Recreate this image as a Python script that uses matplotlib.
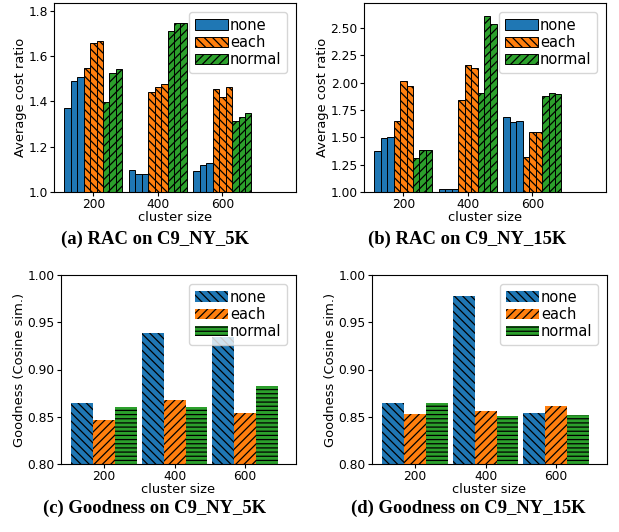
"""2x2 panel: RAC cost ratio and goodness per cluster size."""
import numpy as np
import matplotlib.pyplot as plt

plt.rcParams.update({
    "font.family": "DejaVu Sans",
    "hatch.linewidth": 0.9,
})

W, H = 619, 532
SIZES = ["200", "400", "600"]
METHODS = ["none", "each", "normal"]
COLORS = ["#1f77b4", "#ff7f0e", "#2ca02c"]

# top panels: 3 runs per method per cluster size
rac_5k = {
    "none":   [[1.369, 1.490, 1.506], [1.097, 1.078, 1.078], [1.094, 1.121, 1.128]],
    "each":   [[1.548, 1.657, 1.666], [1.444, 1.462, 1.475], [1.453, 1.421, 1.462]],
    "normal": [[1.399, 1.524, 1.542], [1.713, 1.748, 1.745], [1.314, 1.332, 1.351]],
}
rac_15k = {
    "none":   [[1.373, 1.496, 1.508], [1.031, 1.031, 1.031], [1.683, 1.640, 1.646]],
    "each":   [[1.646, 2.013, 1.967], [1.842, 2.160, 2.133], [1.324, 1.545, 1.545]],
    "normal": [[1.312, 1.389, 1.389], [1.903, 2.613, 2.537], [1.878, 1.903, 1.894]],
}
# bottom panels: one value per method per cluster size
good_5k = {
    "none":   [0.8642, 0.9386, 0.9340],
    "each":   [0.8466, 0.8674, 0.8540],
    "normal": [0.8603, 0.8603, 0.8825],
}
good_15k = {
    "none":   [0.8642, 0.9778, 0.8536],
    "each":   [0.8526, 0.8557, 0.8610],
    "normal": [0.8642, 0.8508, 0.8519],
}

fig = plt.figure(figsize=(W / 100, H / 100), dpi=100)


def px_axes(left, top, right, bottom):
    return fig.add_axes([left / W, 1 - bottom / H, (right - left) / W, (bottom - top) / H])


def style(ax, ylabel):
    ax.set_xticks(np.arange(len(SIZES)))
    ax.set_xticklabels(SIZES)
    ax.tick_params(labelsize=8.8, pad=1.5, length=3)
    ax.set_xlabel("cluster size", fontsize=9.4, labelpad=0)
    ax.set_ylabel(ylabel, fontsize=9.4, labelpad=1)
    ax.legend(loc="upper right", fontsize=10.5, handletextpad=0.1,
              handlelength=2.3, labelspacing=0.15, borderaxespad=0.6,
              borderpad=0.4)


def rac_panel(ax, data, ylim, yticks):
    hatches = ["", "\\\\\\\\", "////"]
    x = np.arange(len(SIZES))
    w = 0.1
    for m, (name, col, hat) in enumerate(zip(METHODS, COLORS, hatches)):
        vals = np.array(data[name])
        for r in range(vals.shape[1]):
            k = m * 3 + r
            ax.bar(x + (k - 4) * w, vals[:, r] - 1.0, w, bottom=1.0, color=col,
                   edgecolor="black", linewidth=0.7, hatch=hat,
                   label=name if r == 0 else None)
    ax.set_xlim(-0.61, 3.14)
    ax.set_ylim(*ylim)
    ax.set_yticks(yticks)
    style(ax, "Average cost ratio")


def good_panel(ax, data):
    hatches = ["\\\\\\\\", "////", "----"]
    x = np.arange(len(SIZES))
    w = 0.31
    for m, (name, col, hat) in enumerate(zip(METHODS, COLORS, hatches)):
        vals = np.array(data[name])
        ax.bar(x + (m - 1) * w, vals - 0.8, w, bottom=0.8, color=col,
               edgecolor="black", linewidth=0, hatch=hat, label=name)
    ax.set_xlim(-0.61, 2.72)
    ax.set_ylim(0.8, 1.0)
    ax.set_yticks([0.80, 0.85, 0.90, 0.95, 1.00])
    ax.set_yticklabels(["0.80", "0.85", "0.90", "0.95", "1.00"])
    style(ax, "Goodness (Cosine sim.)")


ax_a = px_axes(54, 3, 296, 192)
rac_panel(ax_a, rac_5k, (1.0, 1.835), [1.0, 1.2, 1.4, 1.6, 1.8])

ax_b = px_axes(364, 3, 606, 192)
rac_panel(ax_b, rac_15k, (1.0, 2.73), [1.0, 1.25, 1.5, 1.75, 2.0, 2.25, 2.5])
ax_b.set_yticklabels(["1.00", "1.25", "1.50", "1.75", "2.00", "2.25", "2.50"])

ax_c = px_axes(61, 275, 296, 464)
good_panel(ax_c, good_5k)

ax_d = px_axes(372, 275, 607, 464)
good_panel(ax_d, good_15k)

captions = [
    (155, 239, "(a) RAC on C9_NY_5K"),
    (467, 239, "(b) RAC on C9_NY_15K"),
    (155, 508, "(c) Goodness on C9_NY_5K"),
    (468, 508, "(d) Goodness on C9_NY_15K"),
]
for cx, cy, txt in captions:
    fig.text(cx / W, 1 - cy / H, txt, ha="center", va="center",
             fontsize=13.4, fontweight="bold", family="Liberation Serif")

fig.savefig("out.png", dpi=100)
